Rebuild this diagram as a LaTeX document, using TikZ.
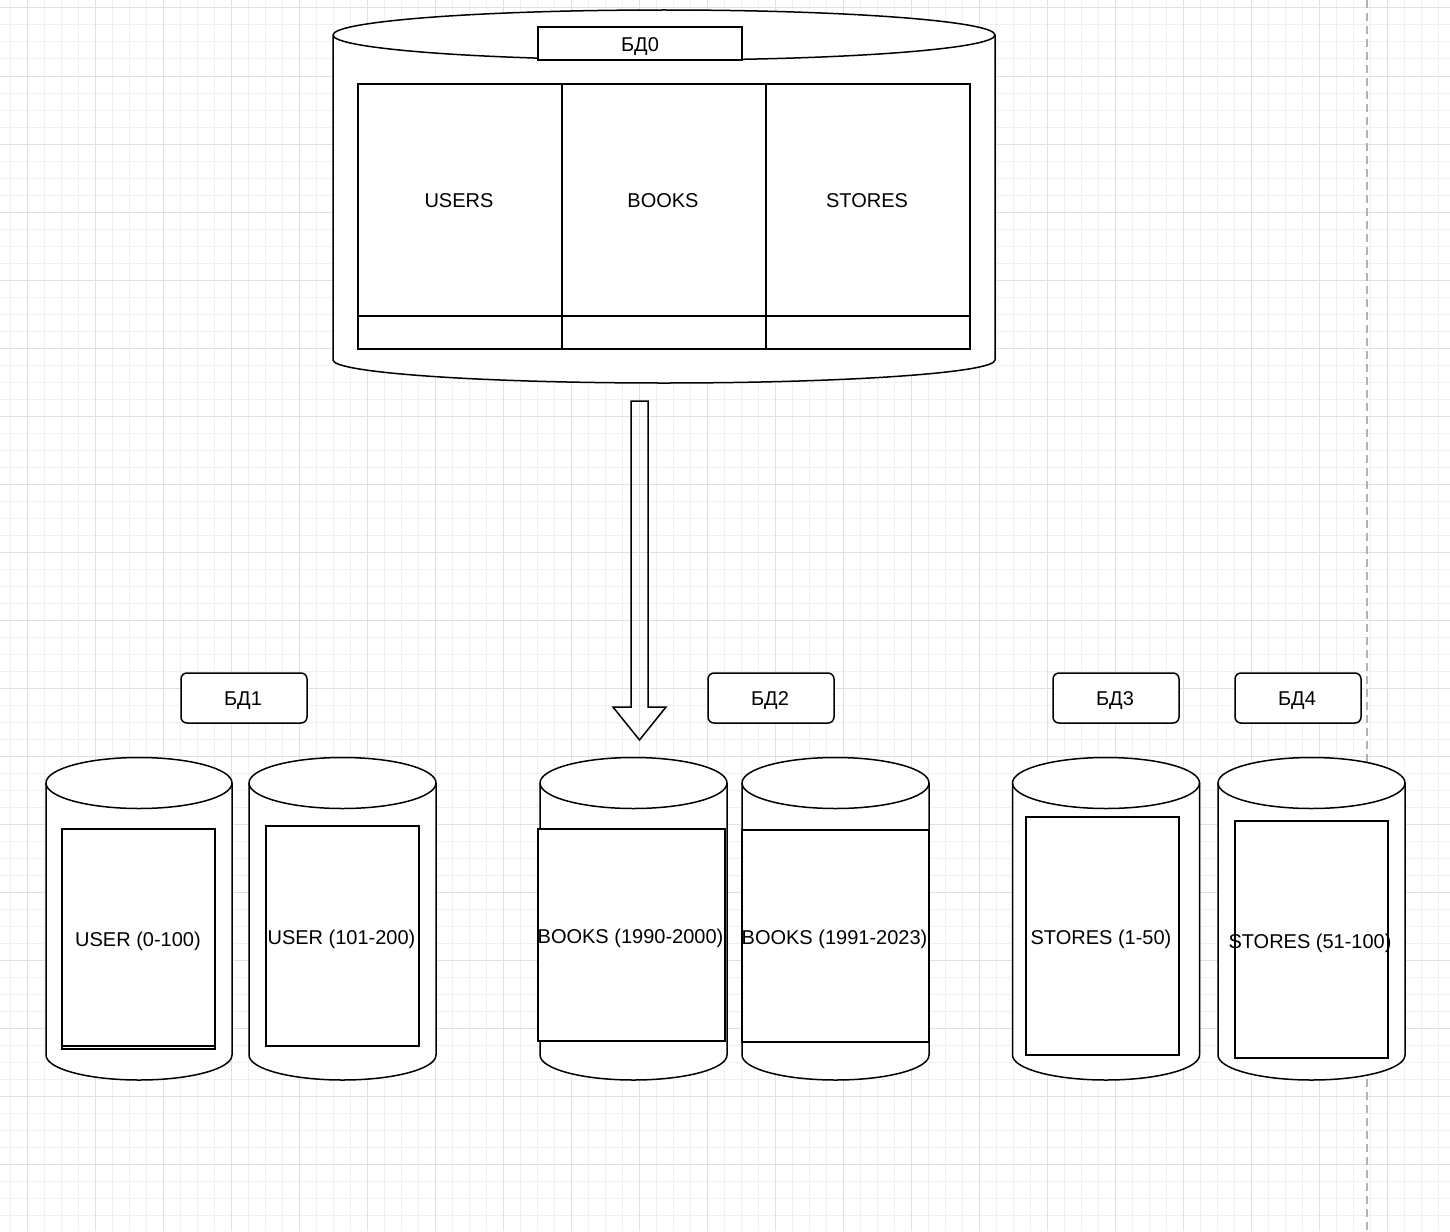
\documentclass[tikz,border=0pt]{standalone}
\usepackage{fontspec}
\setmainfont{Liberation Sans}
\tikzset{
  stroke/.style={draw=black, line width=1.5pt},
  cylbody/.style={stroke, fill=white, line join=round},
  boxnode/.style={stroke, fill=white, inner sep=0pt, outer sep=0pt},
  textnode/.style={inner sep=0pt, outer sep=0pt, font=\fontsize{20}{24}\selectfont, text height=14.3pt, text depth=0pt},
  tagbox/.style={boxnode, rounded corners=6pt, minimum width=126pt, minimum height=50pt},
  minorgrid/.style={draw=black!6, line width=1pt},
  majorgrid/.style={draw=black!12, line width=1pt},
  guide/.style={draw=black!30, line width=1.5pt, dash pattern=on 8pt off 5pt},
  blockarrow/.style={stroke, line join=miter},
}
% #1 cx, #2 rx, #3 y top side, #4 y bottom side, #5 ry top, #6 ry bottom
\newcommand\dbcylinder[6]{%
  \draw[cylbody] ({#1-#2},#3) -- ({#1-#2},#4)
    arc[start angle=180, end angle=360, x radius=#2pt, y radius=#6pt]
    -- ({#1+#2},#3)
    arc[start angle=0, end angle=180, x radius=#2pt, y radius=#5pt] -- cycle;
  \draw[stroke] ({#1-#2},#3) arc[start angle=180, end angle=360, x radius=#2pt, y radius=#5pt];
}
\begin{document}
\begin{tikzpicture}[x=1pt, y=-1pt]
\useasboundingbox (0,0) rectangle (1450,1231);
\fill[white] (0,0) rectangle (1450,1231);
% grid
\foreach \gx in {10,27,...,1450} \draw[minorgrid] (\gx,0) -- (\gx,1231);
\foreach \gy in {8,25,...,1231} \draw[minorgrid] (0,\gy) -- (1450,\gy);
\foreach \gx in {27,95,...,1450} \draw[majorgrid] (\gx,0) -- (\gx,1231);
\foreach \gy in {8,76,...,1231} \draw[majorgrid] (0,\gy) -- (1450,\gy);
% dashed guide
\coordinate (guidetop) at (1367,0);
\coordinate (guidebot) at (1367,1231);
\draw[guide] (guidetop) -- (guidebot);

% top database
\dbcylinder{664}{331}{35}{360}{25}{23}
\node[boxnode, minimum width=204pt, minimum height=33pt] (bd0) at (640,43.5) {};
\node[textnode] (bd0text) at (640,44) {БД0};
\node[boxnode, minimum width=204pt, minimum height=232pt] (users) at (460,200) {};
\node[boxnode, minimum width=204pt, minimum height=232pt] (books) at (664,200) {};
\node[boxnode, minimum width=204pt, minimum height=232pt] (stores) at (868,200) {};
\node[textnode] (userstext) at (459,200) {USERS};
\node[textnode] (bookstext) at (663,200) {BOOKS};
\node[textnode] (storestext) at (867,200) {STORES};
\node[boxnode, minimum width=204pt, minimum height=33pt] (usersfoot) at (460,332.5) {};
\node[boxnode, minimum width=204pt, minimum height=33pt] (booksfoot) at (664,332.5) {};
\node[boxnode, minimum width=204pt, minimum height=33pt] (storesfoot) at (868,332.5) {};

% block arrow
\coordinate (ar1) at (631,401);
\coordinate (ar2) at (648,401);
\coordinate (ar3) at (648,707);
\coordinate (ar4) at (666,707);
\coordinate (artip) at (639.5,740);
\coordinate (ar6) at (613,707);
\coordinate (ar7) at (631,707);
\draw[blockarrow] (ar1) -- (ar2) -- (ar3) -- (ar4) -- (artip) -- (ar6) -- (ar7) -- cycle;

% tags
\node[tagbox] (bd1) at (244,698) {};
\node[tagbox] (bd2) at (771,698) {};
\node[tagbox] (bd3) at (1116,698) {};
\node[tagbox] (bd4) at (1298,698) {};
\node[textnode] (bd1text) at (243,698) {БД1};
\node[textnode] (bd2text) at (770,698) {БД2};
\node[textnode] (bd3text) at (1115,698) {БД3};
\node[textnode] (bd4text) at (1297,698) {БД4};

% bottom databases
\dbcylinder{139}{93}{783}{1055}{25.5}{25}
\dbcylinder{342.5}{93.5}{783}{1055}{25.5}{25}
\dbcylinder{633.5}{93.5}{783}{1055}{25.5}{25}
\dbcylinder{835.5}{93.5}{783}{1055}{25.5}{25}
\dbcylinder{1106}{93.5}{783}{1055}{25.5}{25}
\dbcylinder{1311.5}{93.5}{783}{1055}{25.5}{25}

\node[boxnode, minimum width=153pt, minimum height=220pt] (user1) at (138.5,939) {};
\draw[stroke] (user1.south west) ++(0,-3) -- ++(153,0);
\node[boxnode, minimum width=153pt, minimum height=220pt] (user2) at (342.5,936) {};
\node[boxnode, minimum width=187pt, minimum height=212pt] (books1) at (631.5,935) {};
\node[boxnode, minimum width=187pt, minimum height=212pt] (books2) at (835.5,936) {};
\node[boxnode, minimum width=153pt, minimum height=238pt] (stores1) at (1102.5,936) {};
\node[boxnode, minimum width=153pt, minimum height=237pt] (stores2) at (1311.5,939.5) {};
\node[textnode] (user1text) at (138,939) {USER (0-100)};
\node[textnode] (user2text) at (341.5,937) {USER (101-200)};
\node[textnode] (books1text) at (630.5,936) {BOOKS (1990-2000)};
\node[textnode] (books2text) at (834.5,937) {BOOKS (1991-2023)};
\node[textnode] (stores1text) at (1101,937) {STORES (1-50)};
\node[textnode] (stores2text) at (1310,941) {STORES (51-100)};
\end{tikzpicture}
\end{document}
